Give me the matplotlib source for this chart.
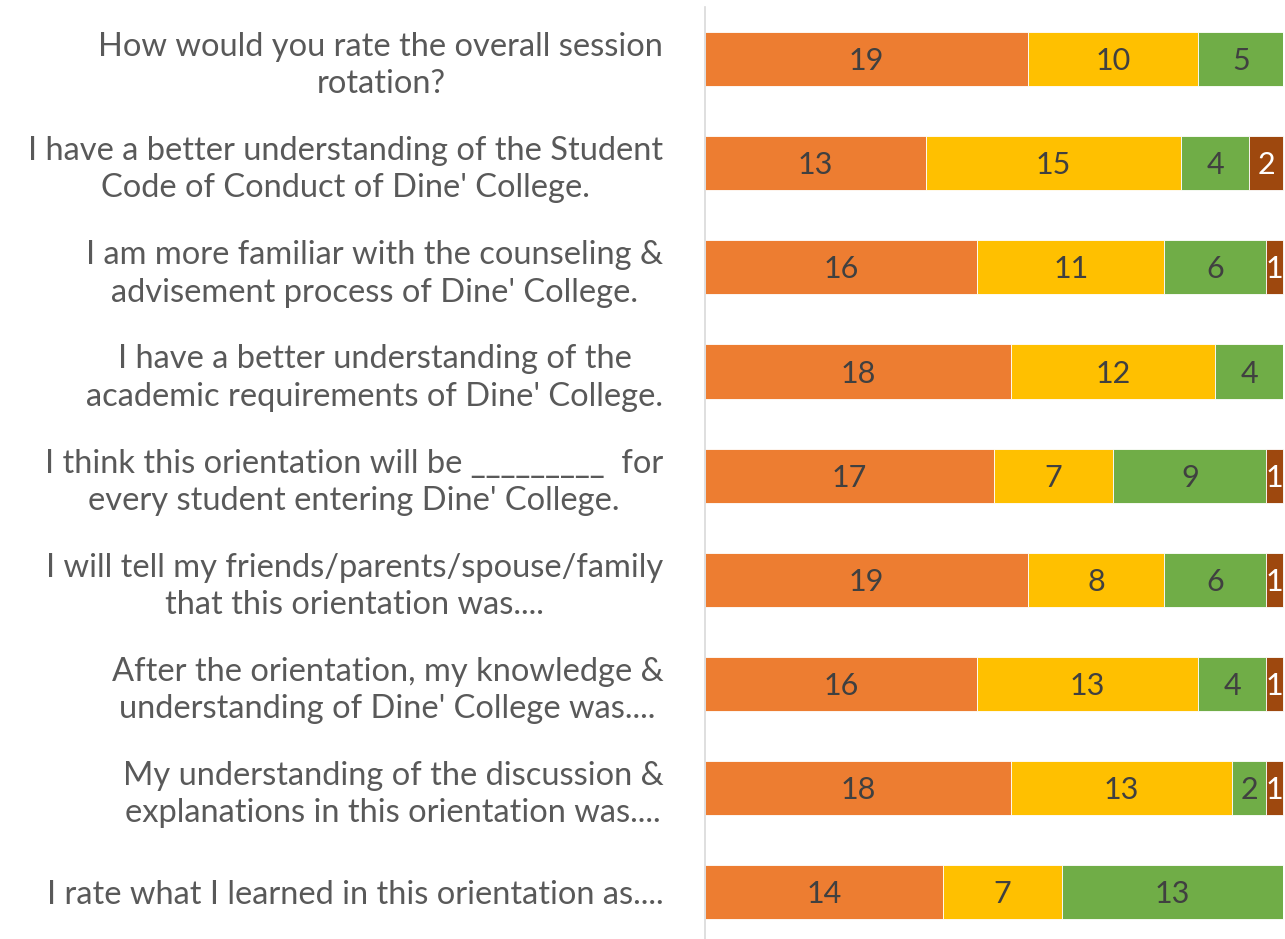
import matplotlib.pyplot as plt
import numpy as np

plt.rcParams['font.family'] = ['Lato', 'DejaVu Sans']

questions = [
    "How would you rate the overall session\nrotation?",
    "I have a better understanding of the Student\nCode of Conduct of Dine' College.",
    "I am more familiar with the counseling &\nadvisement process of Dine' College.",
    "I have a better understanding of the\nacademic requirements of Dine' College.",
    "I think this orientation will be _________  for\nevery student entering Dine' College.",
    "I will tell my friends/parents/spouse/family\nthat this orientation was....",
    "After the orientation, my knowledge &\nunderstanding of Dine' College was....",
    "My understanding of the discussion &\nexplanations in this orientation was....",
    "I rate what I learned in this orientation as....",
]
excellent = [19, 13, 16, 18, 17, 19, 16, 18, 14]
good = [10, 15, 11, 12, 7, 8, 13, 13, 7]
fair = [5, 4, 6, 4, 9, 6, 4, 2, 13]
poor = [0, 2, 1, 0, 1, 1, 1, 1, 0]

series = [excellent, good, fair, poor]
colors = ['#ED7D31', '#FFC000', '#70AD47', '#9E480E']
text_colors = ['#404040', '#404040', '#404040', '#FFFFFF']

fig = plt.figure(figsize=(12.85, 9.39), dpi=100)
ax = fig.add_axes([705 / 1285, 0, 580 / 1285, 932 / 939])

y = np.arange(len(questions))
left = np.zeros(len(questions))
for vals, c, tc in zip(series, colors, text_colors):
    vals = np.array(vals)
    ax.barh(y, vals, left=left, height=0.52, color=c, edgecolor='white', linewidth=0.6)
    for yi, v, l in zip(y, vals, left):
        if v > 0:
            ax.text(l + v / 2, yi + 0.02, str(v), ha='center', va='center',
                    fontsize=22, color=tc)
    left += vals

ax.set_xlim(0, 34.1)
ax.set_ylim(8.45, -0.5)
ax.set_yticks(y)
ax.set_yticklabels(questions, fontsize=23.5, color='#595959', ha='right',
                   multialignment='center', linespacing=1.3)
ax.tick_params(axis='y', length=0, pad=30)
ax.set_xticks([])
for s in ['top', 'right', 'bottom']:
    ax.spines[s].set_visible(False)
ax.spines['left'].set_color('#D9D9D9')
ax.spines['left'].set_linewidth(1.2)

fig.savefig('out.png', dpi=100)
